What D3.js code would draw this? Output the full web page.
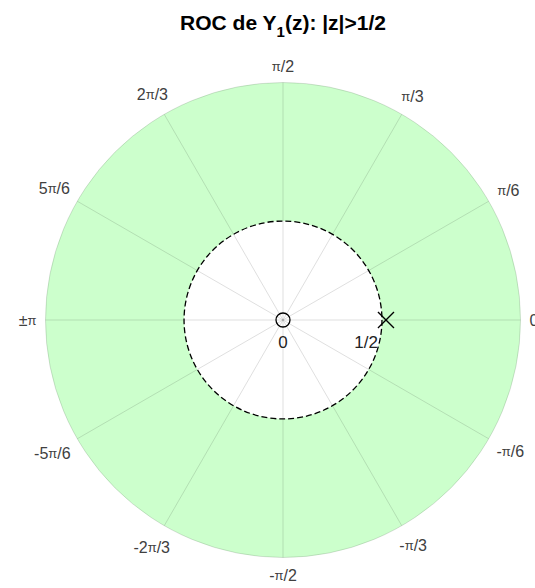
<!DOCTYPE html>
<html>
<head>
<meta charset="utf-8">
<script src="https://cdn.jsdelivr.net/npm/d3@7"></script>
<style>
  html, body { margin: 0; padding: 0; background: #fff; }
  text { font-family: "Liberation Sans", Arial, Helvetica, sans-serif; }
</style>
</head>
<body>
<svg id="chart" width="535" height="588"></svg>
<script>
// Pole / zero data and region of convergence |z| > 1/2
const zeros = [{ r: 0, theta: 0, label: "0" }];
const poles = [{ r: 0.5, theta: 0, label: "1/2" }];
const rocInner = [0.5];
const rMax = [1.2];
// Angular ticks every pi/6 (labels split into pieces so the pi glyph can be sized on its own)
const thetaTicks = [0, 30, 60, 90, 120, 150, 180, -150, -120, -90, -60, -30];
const thetaLabels = [
  ["0"], ["", "\u03c0", "/6"], ["", "\u03c0", "/3"], ["", "\u03c0", "/2"],
  ["2", "\u03c0", "/3"], ["5", "\u03c0", "/6"], ["\u00b1", "\u03c0", ""],
  ["-5", "\u03c0", "/6"], ["-2", "\u03c0", "/3"], ["-", "\u03c0", "/2"],
  ["-", "\u03c0", "/3"], ["-", "\u03c0", "/6"]
];

const svg = d3.select("#chart");
const cx = 283, cy = 320, R = 237.5;

const r = d3.scaleLinear().domain([0, rMax[0]]).range([0, R]);
const toXY = (rr, deg) => {
  const a = deg * Math.PI / 180;
  return [cx + r(rr) * Math.cos(a), cy - r(rr) * Math.sin(a)];
};

const g = svg.append("g");

// ROC annulus
g.append("path")
  .attr("transform", `translate(${cx},${cy})`)
  .attr("d", d3.arc()
    .innerRadius(r(rocInner[0]))
    .outerRadius(r(rMax[0]))
    .startAngle(0)
    .endAngle(2 * Math.PI)())
  .attr("fill", "#ccffcc");

// Outer boundary of the polar axes
g.append("circle")
  .attr("cx", cx).attr("cy", cy).attr("r", r(rMax[0]))
  .attr("fill", "none")
  .attr("stroke", "#262626").attr("stroke-opacity", 0.15).attr("stroke-width", 1);

// Angular grid spokes
g.selectAll("line.spoke")
  .data(thetaTicks)
  .join("line")
  .attr("class", "spoke")
  .attr("x1", cx).attr("y1", cy)
  .attr("x2", d => toXY(rMax[0], d)[0])
  .attr("y2", d => toXY(rMax[0], d)[1])
  .attr("stroke", "#262626").attr("stroke-opacity", 0.15).attr("stroke-width", 1);

// Angular tick labels
const fs = 16;
g.selectAll("text.tick")
  .data(thetaTicks.map((t, i) => ({ t, parts: thetaLabels[i] })))
  .join("text")
  .attr("class", "tick")
  .attr("font-size", fs)
  .attr("fill", "#404040")
  .attr("text-anchor", "middle")
  .attr("dominant-baseline", "central")
  .each(function (d) {
    const t = d3.select(this);
    d.parts.forEach((p, k) => {
      if (!p) return;
      t.append("tspan").attr("font-size", k === 1 ? 13 : fs).text(p);
    });
    const w = this.getComputedTextLength();
    const a = d.t * Math.PI / 180;
    const off = R + 9 + Math.abs(Math.cos(a)) * w / 2 + Math.abs(Math.sin(a)) * fs / 2;
    t.attr("x", cx + off * Math.cos(a))
     .attr("y", cy - off * Math.sin(a));
  });

// ROC boundary |z| = 1/2 (dashed)
g.append("circle")
  .attr("cx", cx).attr("cy", cy).attr("r", r(rocInner[0]))
  .attr("fill", "none")
  .attr("stroke", "#000").attr("stroke-width", 1.3)
  .attr("stroke-dasharray", "6,3");

// Zeros: circle markers
g.selectAll("circle.zero")
  .data(zeros)
  .join("circle")
  .attr("class", "zero")
  .attr("cx", d => toXY(d.r, d.theta)[0])
  .attr("cy", d => toXY(d.r, d.theta)[1])
  .attr("r", 7)
  .attr("fill", "none")
  .attr("stroke", "#000").attr("stroke-width", 1.3);

g.selectAll("text.zlabel")
  .data(zeros)
  .join("text")
  .attr("class", "zlabel")
  .attr("x", d => toXY(d.r, d.theta)[0])
  .attr("y", d => toXY(d.r, d.theta)[1] + 28)
  .attr("text-anchor", "middle")
  .attr("font-size", 17)
  .attr("fill", "#222")
  .text(d => d.label);

// Poles: x markers
const xs = 8;
const poleG = g.selectAll("g.pole")
  .data(poles)
  .join("g")
  .attr("class", "pole")
  .attr("transform", d => `translate(${toXY(d.r, d.theta)[0] + 4},${toXY(d.r, d.theta)[1]})`);
poleG.append("line").attr("x1", -xs).attr("y1", -xs).attr("x2", xs).attr("y2", xs)
  .attr("stroke", "#000").attr("stroke-width", 1.3);
poleG.append("line").attr("x1", -xs).attr("y1", xs).attr("x2", xs).attr("y2", -xs)
  .attr("stroke", "#000").attr("stroke-width", 1.3);

g.selectAll("text.plabel")
  .data(poles)
  .join("text")
  .attr("class", "plabel")
  .attr("x", d => toXY(d.r, d.theta)[0] - 4)
  .attr("y", d => toXY(d.r, d.theta)[1] + 28)
  .attr("text-anchor", "end")
  .attr("font-size", 17)
  .attr("fill", "#222")
  .text(d => d.label);

// Title with subscript
const title = svg.append("text")
  .attr("x", cx).attr("y", 30)
  .attr("text-anchor", "middle")
  .attr("font-size", 21)
  .attr("font-weight", "bold")
  .attr("fill", "#000");
title.append("tspan").text("ROC de Y");
title.append("tspan").attr("font-size", 15).attr("dy", 7).text("1");
title.append("tspan").attr("dy", -7).text("(z): |z|>1/2");
</script>
</body>
</html>
